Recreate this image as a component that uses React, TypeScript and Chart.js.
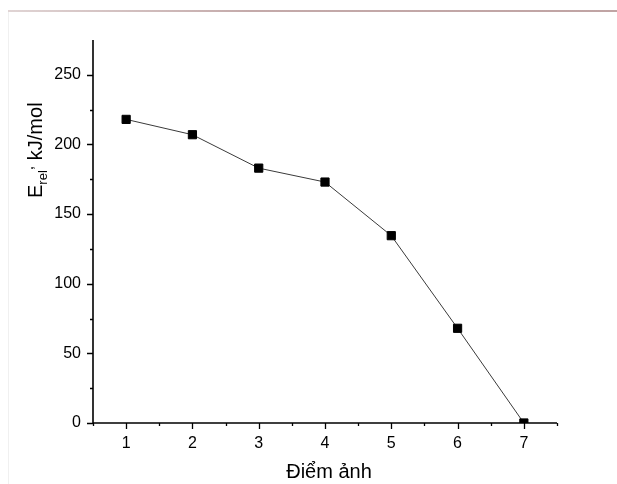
import React, { useEffect, useRef } from "react";
import { Chart, registerables } from "chart.js";

Chart.register(...registerables);

const xValues = [1, 2, 3, 4, 5, 6, 7];
const energies = [218, 207, 183, 173, 134.5, 68, 0];
const xTickValues = [1, 2, 3, 4, 5, 6, 7];
const xMinorValues = [0.5, 1.5, 2.5, 3.5, 4.5, 5.5, 6.5, 7.5];
const yTickValues = [0, 50, 100, 150, 200, 250];
const yMinorValues = [25, 75, 125, 175, 225];
const xTitle = "Điểm ảnh";
const yTitleMain = "E";
const yTitleSub = "rel";
const yTitleComma = ",";
const yTitleRest = " kJ/mol";

const FONT = "'Liberation Sans', Arial, sans-serif";

const axesPlugin = {
  id: "originAxes",
  afterDraw(chart: any) {
    const ctx = chart.ctx as CanvasRenderingContext2D;
    const { left, right, top, bottom } = chart.chartArea;
    const xs = chart.scales.x;
    const ys = chart.scales.y;
    ctx.save();
    ctx.strokeStyle = "#000";
    ctx.lineWidth = 1.6;
    ctx.beginPath();
    ctx.moveTo(left, top);
    ctx.lineTo(left, bottom);
    ctx.lineTo(right, bottom);
    ctx.stroke();
    ctx.lineWidth = 1.3;
    ctx.beginPath();
    for (const v of yTickValues) {
      const y = Math.round(ys.getPixelForValue(v)) + 0.5;
      ctx.moveTo(left, y);
      ctx.lineTo(left - 6, y);
    }
    for (const v of yMinorValues) {
      const y = Math.round(ys.getPixelForValue(v)) + 0.5;
      ctx.moveTo(left, y);
      ctx.lineTo(left - 3, y);
    }
    for (const v of xTickValues) {
      const x = Math.round(xs.getPixelForValue(v)) + 0.5;
      ctx.moveTo(x, bottom);
      ctx.lineTo(x, bottom + 6);
    }
    for (const v of xMinorValues) {
      const x = Math.round(xs.getPixelForValue(v)) + 0.5;
      ctx.moveTo(x, bottom);
      ctx.lineTo(x, bottom + 3);
    }
    ctx.stroke();

    // x title
    ctx.fillStyle = "#000";
    ctx.font = `20px ${FONT}`;
    ctx.textAlign = "center";
    ctx.textBaseline = "alphabetic";
    ctx.fillText(xTitle, (left + right) / 2 + 4, 478);

    // y title with subscript
    ctx.translate(42, 198);
    ctx.rotate(-Math.PI / 2);
    ctx.textAlign = "left";
    let px = 0;
    ctx.font = `20px ${FONT}`;
    ctx.fillText(yTitleMain, px, 0);
    px += ctx.measureText(yTitleMain).width;
    ctx.font = `13px ${FONT}`;
    ctx.fillText(yTitleSub, px, 5);
    px += ctx.measureText(yTitleSub).width;
    ctx.font = `16px ${FONT}`;
    ctx.fillText(yTitleComma, px, -9);
    px += ctx.measureText(yTitleComma).width;
    ctx.font = `20px ${FONT}`;
    ctx.fillText(yTitleRest, px, 0);
    ctx.restore();
  },
};

export default function App() {
  const ref = useRef<HTMLCanvasElement>(null);
  useEffect(() => {
    if (!ref.current) return;
    const chart = new Chart(ref.current, {
      type: "line",
      data: {
        datasets: [
          {
            data: xValues.map((x, i) => ({ x, y: energies[i] })),
            borderColor: "#3a3a3a",
            borderWidth: 1,
            pointStyle: "rect",
            pointRadius: 5.8,
            pointBackgroundColor: "#000",
            pointBorderColor: "#000",
            pointBorderWidth: 1,
            clip: { left: false, top: false, right: false, bottom: 0 } as any,
            tension: 0,
          },
        ],
      },
      options: {
        animation: false,
        responsive: false,
        layout: { padding: { left: 0, top: 40, right: 60, bottom: 0 } },
        plugins: { legend: { display: false }, tooltip: { enabled: false } },
        scales: {
          x: {
            type: "linear",
            min: 0.5,
            max: 7.5,
            grid: { display: false, drawTicks: false },
            border: { display: false },
            afterBuildTicks: (s: any) => {
              s.ticks = xTickValues.map((v) => ({ value: v }));
            },
            afterFit: (s: any) => {
              s.height = 61;
            },
            ticks: {
              color: "#000",
              padding: 11,
              maxRotation: 0,
              font: { family: FONT, size: 16 },
              callback: (v: any) => String(v),
            },
          },
          y: {
            type: "linear",
            min: 0,
            max: 275,
            grid: { display: false, drawTicks: false },
            border: { display: false },
            afterBuildTicks: (s: any) => {
              s.ticks = yTickValues.map((v) => ({ value: v }));
            },
            afterFit: (s: any) => {
              s.width = 93;
            },
            ticks: {
              color: "#000",
              padding: 12,
              font: { family: FONT, size: 16 },
              callback: (v: any) => String(v),
            },
          },
        },
      },
      plugins: [axesPlugin],
    });
    return () => chart.destroy();
  }, []);
  return (
    <div style={{ position: "absolute", left: 0, top: 0, width: 617, height: 484, background: "#fff" }}>
      <div
        style={{
          position: "absolute",
          left: 8,
          top: 10,
          right: 0,
          height: 2,
          background: "linear-gradient(to right, #e0d4d4, #c4aaaa 40%, #c0a4a4)",
        }}
      />
      <div style={{ position: "absolute", left: 8, top: 12, width: 1, bottom: 0, background: "#f0f0f0" }} />
      <canvas ref={ref} width={617} height={484} style={{ position: "absolute", left: 0, top: 0 }} />
    </div>
  );
}
